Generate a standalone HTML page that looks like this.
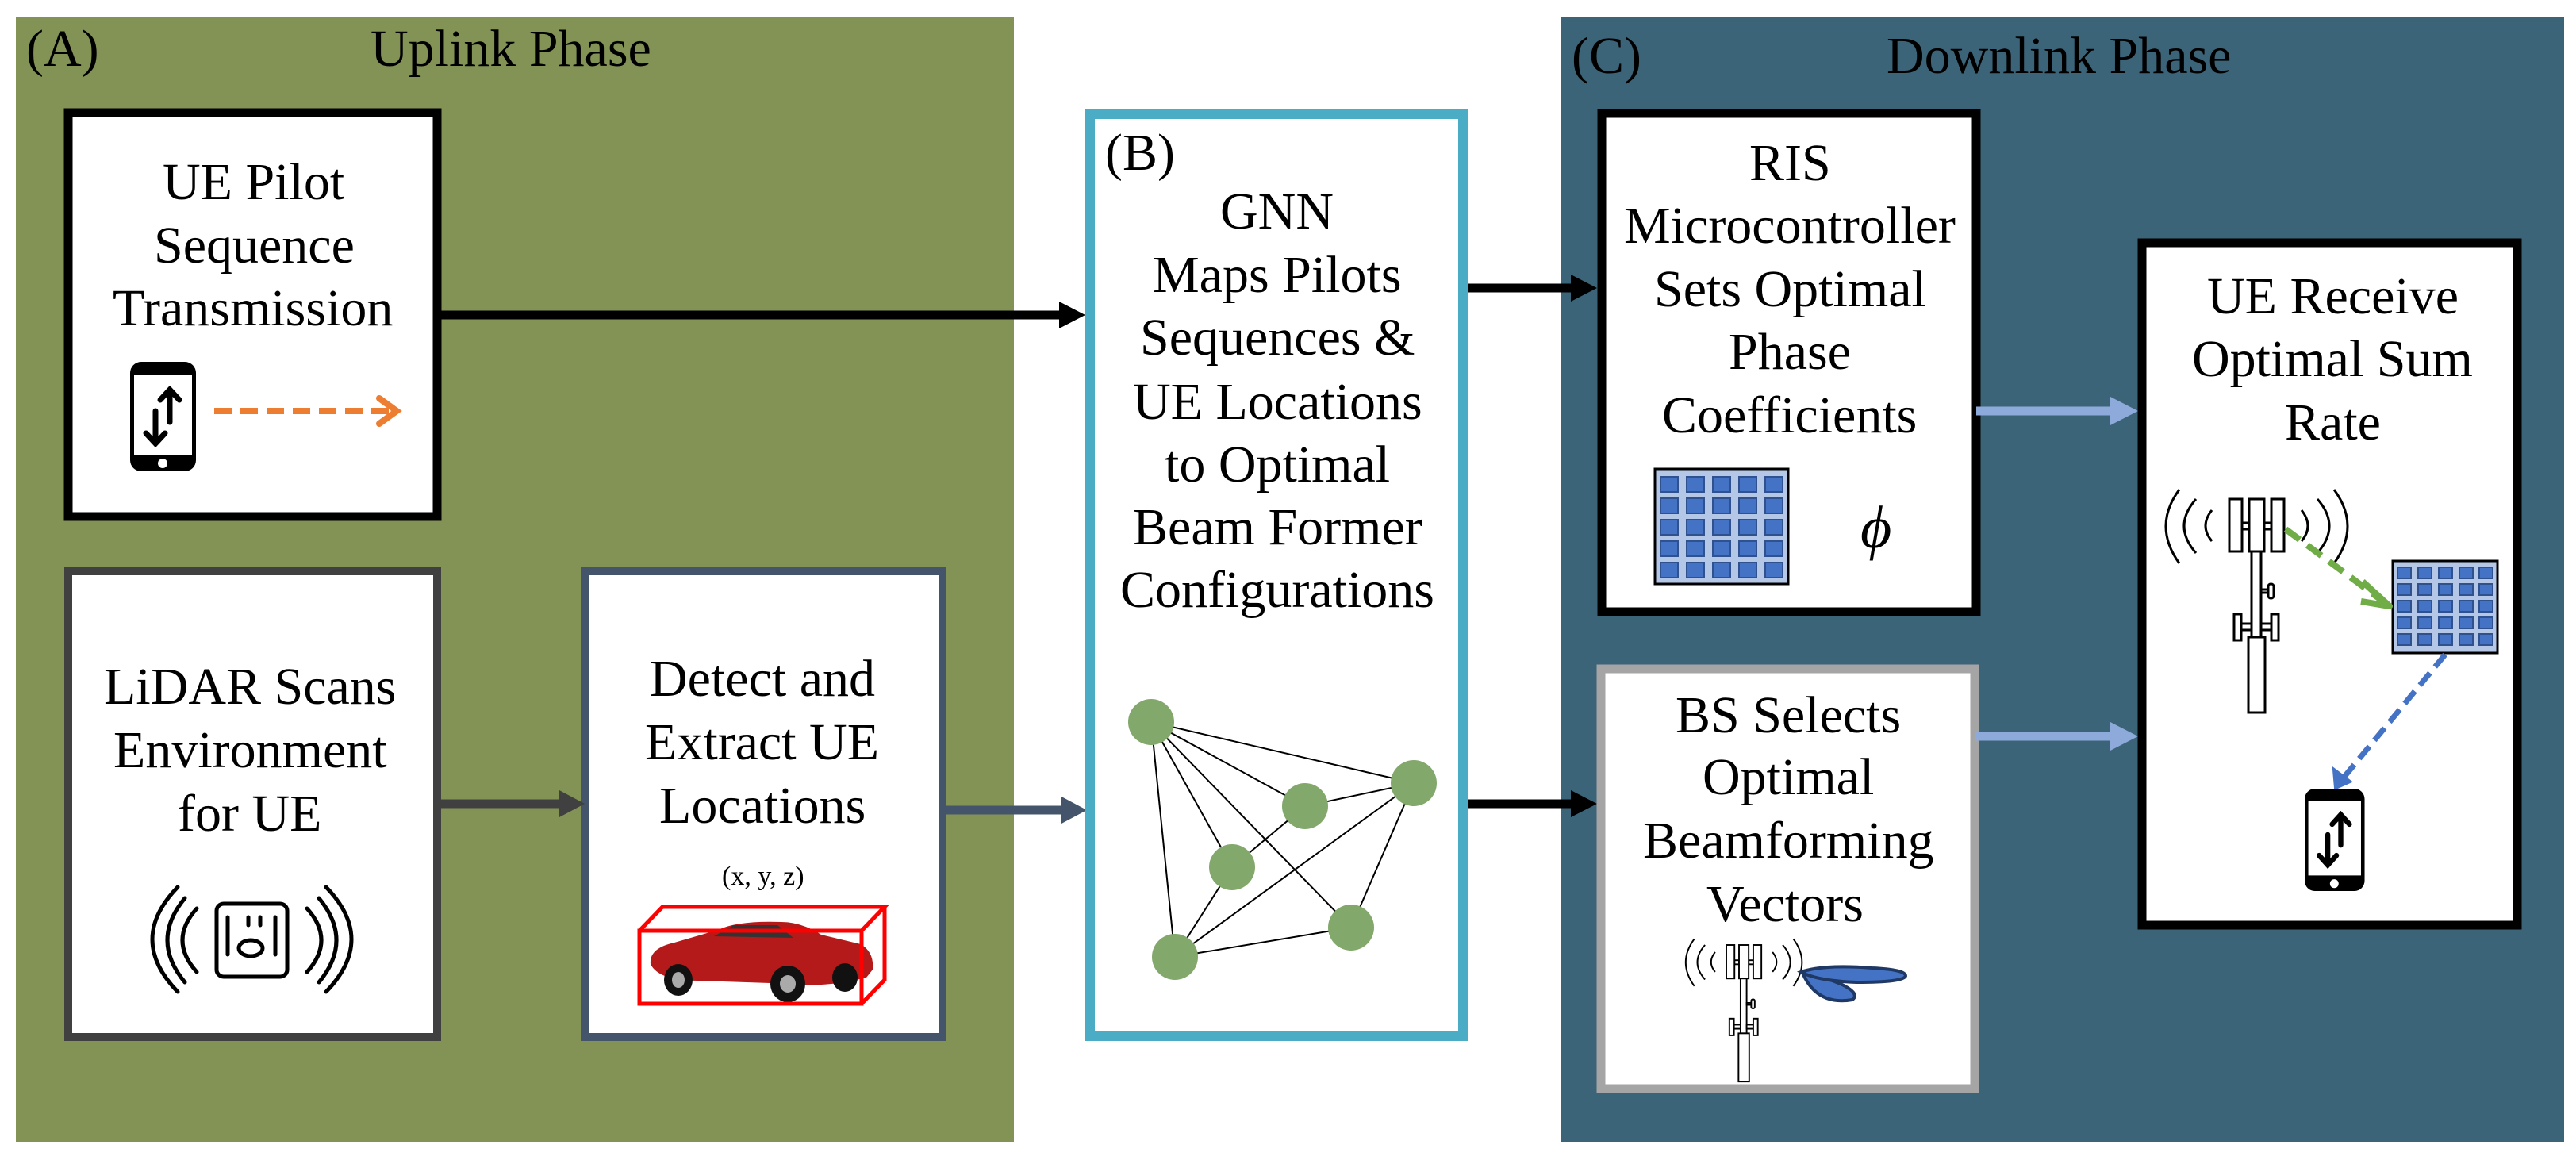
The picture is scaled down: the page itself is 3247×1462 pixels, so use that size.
<!DOCTYPE html>
<html><head><meta charset="utf-8"><style>
html,body{margin:0;padding:0;background:#fff;}
svg{display:block;}
</style></head><body>
<svg width="3247" height="1462" viewBox="0 0 3247 1462" xmlns="http://www.w3.org/2000/svg">
<defs>
<g id="tower" fill="#fff" stroke="#000" stroke-width="3">
  <path d="M-63 -12 Q-97 34 -63 81 M-42 0 Q-72 34 -42 68 M-22 14 Q-38 34 -22 53" fill="none"/>
  <path d="M132 -12 Q166 34 132 81 M111 0 Q141 34 111 68 M91 14 Q107 34 91 53" fill="none"/>
  <rect x="16" y="30" width="9" height="8"/><rect x="44" y="30" width="9" height="8"/>
  <rect x="0" y="0" width="16" height="66"/><rect x="25" y="0" width="19" height="66"/><rect x="53" y="0" width="16" height="66"/>
  <rect x="28" y="66" width="12" height="108"/>
  <rect x="40" y="114" width="10" height="4"/><rect x="49" y="107" width="7" height="18" rx="3"/>
  <rect x="15" y="157" width="13" height="8"/><rect x="40" y="157" width="13" height="8"/>
  <rect x="6" y="145" width="9" height="33"/><rect x="53" y="145" width="9" height="33"/>
  <rect x="24" y="174" width="21" height="95"/>
</g>
<g id="phone">
  <rect x="0" y="0" width="83" height="138" rx="14" fill="#000"/>
  <rect x="5" y="17" width="73" height="100" fill="#fff"/>
  <circle cx="41" cy="128" r="6" fill="#fff"/>
  <g stroke="#000" stroke-width="7" stroke-linecap="round" fill="none">
    <path d="M50 76 V36 M38 48 L50 35 L62 48"/>
    <path d="M32 62 V102 M20 90 L32 103 L44 90"/>
  </g>
</g>
</defs>

<rect x="20" y="21" width="1258" height="1418" fill="#839356"/>
<rect x="1967" y="22" width="1265" height="1417" fill="#3c6479"/>

<rect x="86" y="142" width="465" height="509" fill="#fff" stroke="#000" stroke-width="11"/>
<use href="#phone" x="164" y="456"/>
<line x1="270" y1="518" x2="492" y2="518" stroke="#ed7d31" stroke-width="8" stroke-dasharray="22 11"/>
<path d="M478 502 L500 518 L478 534" stroke="#ed7d31" stroke-width="8" fill="none" stroke-linecap="round"/>

<rect x="86" y="720" width="465" height="587" fill="#fff" stroke="#404040" stroke-width="10"/>
<g stroke="#000" stroke-width="5" fill="none" stroke-linecap="round">
  <rect x="273" y="1139" width="89" height="92" rx="9"/>
  <line x1="287" y1="1156" x2="287" y2="1203"/><line x1="347" y1="1156" x2="347" y2="1203"/>
  <line x1="313" y1="1156" x2="313" y2="1166"/><line x1="328" y1="1156" x2="328" y2="1166"/>
  <ellipse cx="316" cy="1195" rx="15" ry="10"/>
  <path d="M224 1118 Q160 1184 224 1250 M233 1132 Q189 1185 233 1238 M248 1145 Q212 1185 248 1225"/>
  <path d="M411 1118 Q475 1184 411 1250 M402 1132 Q446 1185 402 1238 M387 1145 Q423 1185 387 1225"/>
</g>

<rect x="737" y="720" width="451" height="587" fill="#fff" stroke="#44546a" stroke-width="10"/>
<path d="M820 1215 Q818 1195 850 1188 L905 1172 Q930 1160 985 1162 Q1010 1162 1035 1178 L1085 1190 Q1102 1200 1100 1222 L1092 1232 Q1040 1245 1000 1240 L880 1236 Q830 1236 820 1215 Z" fill="#b41a1a"/>
<path d="M900 1180 L925 1166 L980 1166 L1000 1182 Z" fill="#333"/>
<ellipse cx="855" cy="1235" rx="18" ry="20" fill="#111"/><ellipse cx="993" cy="1240" rx="22" ry="23" fill="#111"/><ellipse cx="1065" cy="1232" rx="16" ry="18" fill="#111"/>
<ellipse cx="855" cy="1235" rx="8" ry="10" fill="#aaa"/><ellipse cx="993" cy="1240" rx="10" ry="11" fill="#aaa"/>
<g stroke="#ff0000" stroke-width="5" fill="none">
  <rect x="806" y="1173" width="280" height="92"/>
  <path d="M806 1173 L835 1143 L1115 1143 L1086 1173 M1115 1143 L1115 1235 L1086 1265"/>
</g>

<line x1="551" y1="397" x2="1340" y2="397" stroke="#000" stroke-width="11"/>
<path d="M1335 380 L1368 397 L1335 414 Z" fill="#000"/>
<line x1="551" y1="1013" x2="712" y2="1013" stroke="#404040" stroke-width="11"/>
<path d="M705 996 L737 1013 L705 1030 Z" fill="#404040"/>
<line x1="1188" y1="1021" x2="1342" y2="1021" stroke="#44546a" stroke-width="11"/>
<path d="M1338 1004 L1370 1021 L1338 1038 Z" fill="#44546a"/>

<rect x="1374" y="144" width="470" height="1162" fill="#fff" stroke="#4bacc6" stroke-width="12"/>
<g stroke="#000" stroke-width="2">
  <line x1="1451" y1="910" x2="1782" y2="987"/><line x1="1451" y1="910" x2="1645" y2="1016"/><line x1="1451" y1="910" x2="1481" y2="1206"/>
  <line x1="1451" y1="910" x2="1553" y2="1093"/><line x1="1451" y1="910" x2="1703" y2="1169"/>
  <line x1="1645" y1="1016" x2="1782" y2="987"/><line x1="1645" y1="1016" x2="1553" y2="1093"/>
  <line x1="1782" y1="987" x2="1481" y2="1206"/><line x1="1782" y1="987" x2="1703" y2="1169"/>
  <line x1="1481" y1="1206" x2="1703" y2="1169"/><line x1="1481" y1="1206" x2="1553" y2="1093"/>
</g>
<g fill="#82a86c">
  <circle cx="1451" cy="910" r="29"/><circle cx="1782" cy="987" r="29"/><circle cx="1645" cy="1016" r="29"/>
  <circle cx="1553" cy="1093" r="29"/><circle cx="1703" cy="1169" r="29"/><circle cx="1481" cy="1206" r="29"/>
</g>

<line x1="1850" y1="363" x2="1985" y2="363" stroke="#000" stroke-width="11"/>
<path d="M1980 346 L2013 363 L1980 380 Z" fill="#000"/>
<line x1="1850" y1="1013" x2="1985" y2="1013" stroke="#000" stroke-width="11"/>
<path d="M1980 996 L2013 1013 L1980 1030 Z" fill="#000"/>

<rect x="2019" y="143" width="472" height="628" fill="#fff" stroke="#000" stroke-width="11"/>
<rect x="2086" y="591" width="168" height="145" fill="#b4c7e7" stroke="#000" stroke-width="3"/>

<rect x="2018" y="843" width="471" height="529" fill="#fff" stroke="#a5a5a5" stroke-width="11"/>
<use href="#tower" transform="translate(2176 1191) scale(0.64)"/>
<g fill="#4472c4" stroke="#1f3864" stroke-width="4">
  <path d="M2272 1226 Q2290 1268 2335 1260 Q2345 1252 2320 1240 Q2290 1228 2272 1226 Z"/>
  <path d="M2270 1225 Q2300 1215 2360 1220 Q2402 1222 2402 1230 Q2400 1238 2340 1238 Q2290 1236 2270 1225 Z"/>
</g>

<line x1="2491" y1="518" x2="2665" y2="518" stroke="#8eaadb" stroke-width="11"/>
<path d="M2660 500 L2695 518 L2660 536 Z" fill="#8eaadb"/>
<line x1="2489" y1="928" x2="2665" y2="928" stroke="#8eaadb" stroke-width="11"/>
<path d="M2660 910 L2695 928 L2660 946 Z" fill="#8eaadb"/>

<rect x="2700" y="306" width="473" height="860" fill="#fff" stroke="#000" stroke-width="11"/>
<use href="#tower" x="2810" y="629"/>
<rect x="3016" y="707" width="132" height="116" fill="#b4c7e7" stroke="#000" stroke-width="3"/>
<line x1="2881" y1="667" x2="3000" y2="755" stroke="#70ad47" stroke-width="8" stroke-dasharray="22 12"/>
<path d="M2978 733 L3012 764 L2976 758" stroke="#70ad47" stroke-width="8" fill="none" stroke-linejoin="round"/>
<line x1="3082" y1="825" x2="2950" y2="985" stroke="#4472c4" stroke-width="7" stroke-dasharray="20 10"/>
<path d="M2942 970 L2944 993 L2962 985 Z" fill="#4472c4" stroke="#4472c4" stroke-width="4"/>
<use href="#phone" transform="translate(2905 994) scale(0.91 0.935)"/>

<g fill="#4472c4" stroke="#2f528f" stroke-width="2">
  <rect x="2093" y="601" width="22" height="19"/><rect x="2126" y="601" width="22" height="19"/><rect x="2159" y="601" width="22" height="19"/><rect x="2192" y="601" width="22" height="19"/><rect x="2225" y="601" width="22" height="19"/>
  <rect x="2093" y="628" width="22" height="19"/><rect x="2126" y="628" width="22" height="19"/><rect x="2159" y="628" width="22" height="19"/><rect x="2192" y="628" width="22" height="19"/><rect x="2225" y="628" width="22" height="19"/>
  <rect x="2093" y="655" width="22" height="19"/><rect x="2126" y="655" width="22" height="19"/><rect x="2159" y="655" width="22" height="19"/><rect x="2192" y="655" width="22" height="19"/><rect x="2225" y="655" width="22" height="19"/>
  <rect x="2093" y="682" width="22" height="19"/><rect x="2126" y="682" width="22" height="19"/><rect x="2159" y="682" width="22" height="19"/><rect x="2192" y="682" width="22" height="19"/><rect x="2225" y="682" width="22" height="19"/>
  <rect x="2093" y="709" width="22" height="19"/><rect x="2126" y="709" width="22" height="19"/><rect x="2159" y="709" width="22" height="19"/><rect x="2192" y="709" width="22" height="19"/><rect x="2225" y="709" width="22" height="19"/>
</g>
<g fill="#4472c4" stroke="#2f528f" stroke-width="2">
  <rect x="3022" y="715" width="17" height="14"/><rect x="3048" y="715" width="17" height="14"/><rect x="3074" y="715" width="17" height="14"/><rect x="3100" y="715" width="17" height="14"/><rect x="3125" y="715" width="17" height="14"/>
  <rect x="3022" y="736" width="17" height="14"/><rect x="3048" y="736" width="17" height="14"/><rect x="3074" y="736" width="17" height="14"/><rect x="3100" y="736" width="17" height="14"/><rect x="3125" y="736" width="17" height="14"/>
  <rect x="3022" y="757" width="17" height="14"/><rect x="3048" y="757" width="17" height="14"/><rect x="3074" y="757" width="17" height="14"/><rect x="3100" y="757" width="17" height="14"/><rect x="3125" y="757" width="17" height="14"/>
  <rect x="3022" y="778" width="17" height="14"/><rect x="3048" y="778" width="17" height="14"/><rect x="3074" y="778" width="17" height="14"/><rect x="3100" y="778" width="17" height="14"/><rect x="3125" y="778" width="17" height="14"/>
  <rect x="3022" y="799" width="17" height="14"/><rect x="3048" y="799" width="17" height="14"/><rect x="3074" y="799" width="17" height="14"/><rect x="3100" y="799" width="17" height="14"/><rect x="3125" y="799" width="17" height="14"/>
</g>

<g style="font-family:'Liberation Serif','Times New Roman',serif;font-size:66px" fill="#000">
<text x="33" y="83">(A)</text>
<text x="467" y="83">Uplink Phase</text>
<text x="1981" y="92">(C)</text>
<text x="2378" y="92">Downlink Phase</text>
<text x="1393" y="214">(B)</text>

<text x="205" y="251">UE Pilot</text>
<text x="194" y="331">Sequence</text>
<text x="142" y="410">Transmission</text>

<text x="131" y="887">LiDAR Scans</text>
<text x="143" y="967">Environment</text>
<text x="224" y="1047">for UE</text>

<text x="819" y="877">Detect and</text>
<text x="813" y="957">Extract UE</text>
<text x="831" y="1037">Locations</text>
<text x="910" y="1115" style="font-size:34px">(x, y, z)</text>

<text x="1538" y="288">GNN</text>
<text x="1453" y="368">Maps Pilots</text>
<text x="1437" y="447">Sequences &amp;</text>
<text x="1428" y="528">UE Locations</text>
<text x="1468" y="607">to Optimal</text>
<text x="1428" y="686">Beam Former</text>
<text x="1412" y="765">Configurations</text>

<text x="2205" y="227">RIS</text>
<text x="2047" y="306">Microcontroller</text>
<text x="2085" y="386">Sets Optimal</text>
<text x="2179" y="465">Phase</text>
<text x="2095" y="545">Coefficients</text>
<text x="2345" y="690" style="font-size:76px;font-style:italic">ϕ</text>

<text x="2112" y="923">BS Selects</text>
<text x="2146" y="1001">Optimal</text>
<text x="2071" y="1081">Beamforming</text>
<text x="2151" y="1161">Vectors</text>

<text x="2782" y="395">UE Receive</text>
<text x="2763" y="474">Optimal Sum</text>
<text x="2880" y="554">Rate</text>
</g>
</svg>
</body></html>
